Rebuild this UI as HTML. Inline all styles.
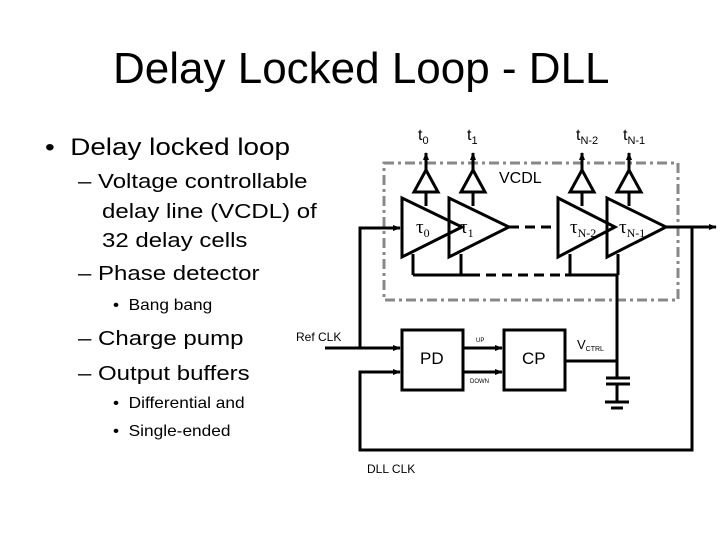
<!DOCTYPE html>
<html><head><style>
body{margin:0;width:720px;height:540px;background:#fff;overflow:hidden;position:relative;font-family:"Liberation Sans",Arial,sans-serif;color:#000}
.t{position:absolute;white-space:nowrap;transform-origin:0 0}
</style></head><body>
<div class="t" style="left:113px;top:44px;font-size:44px">Delay Locked Loop - DLL</div>
<div class="t" style="left:45px;top:136px;font-size:24px;line-height:24px;transform:scaleX(1.16)">•&nbsp; Delay locked loop</div>
<div class="t" style="left:78px;top:172px;font-size:20px;line-height:20px;transform:scaleX(1.2)">– Voltage controllable</div>
<div class="t" style="left:102px;top:202px;font-size:20px;line-height:20px;transform:scaleX(1.2)">delay line (VCDL) of</div>
<div class="t" style="left:102px;top:231px;font-size:20px;line-height:20px;transform:scaleX(1.2)">32 delay cells</div>
<div class="t" style="left:78px;top:264px;font-size:20px;line-height:20px;transform:scaleX(1.2)">– Phase detector</div>
<div class="t" style="left:113px;top:298px;font-size:16px;line-height:16px;transform:scaleX(1.08)">•&nbsp; Bang bang</div>
<div class="t" style="left:78px;top:329px;font-size:20px;line-height:20px;transform:scaleX(1.2)">– Charge pump</div>
<div class="t" style="left:78px;top:364px;font-size:20px;line-height:20px;transform:scaleX(1.2)">– Output buffers</div>
<div class="t" style="left:113px;top:396px;font-size:16px;line-height:16px;transform:scaleX(1.08)">•&nbsp; Differential and</div>
<div class="t" style="left:113px;top:424px;font-size:16px;line-height:16px;transform:scaleX(1.08)">•&nbsp; Single-ended</div>
<svg width="720" height="540" style="position:absolute;left:0;top:0" font-family="Liberation Sans, Arial, sans-serif">
<defs><marker id="a" markerWidth="8" markerHeight="8" refX="7" refY="4" orient="auto" markerUnits="userSpaceOnUse"><path d="M0,1 L8,4 L0,7z" fill="#000"/></marker></defs>
<rect x="384" y="163" width="294" height="137" fill="none" stroke="#888" stroke-width="3" stroke-dasharray="10,4,3,4"/>
<g stroke="#000" stroke-width="3" fill="none">
<polygon points="402,198 402,257 462,227"/>
<polygon points="449,198 449,257 509,227"/>
<polygon points="558,198 558,257 615,227"/>
<polygon points="607,198 607,257 666,227"/>
<line x1="509" y1="227" x2="558" y2="227" stroke-dasharray="10,6"/>
<polyline points="360,348 360,228 400,228" marker-end="url(#a)"/>
<line x1="666" y1="227" x2="716" y2="227" marker-end="url(#a)"/>
<line x1="413" y1="275" x2="470" y2="275"/>
<line x1="470" y1="275" x2="565" y2="275" stroke-dasharray="10,6"/>
<line x1="565" y1="275" x2="618" y2="275"/>
<line x1="413" y1="275" x2="413" y2="254"/><line x1="461" y1="275" x2="461" y2="254"/>
<line x1="570" y1="275" x2="570" y2="254"/><line x1="618" y1="275" x2="618" y2="254"/>
<line x1="617" y1="275" x2="617" y2="378"/>
<line x1="617" y1="384" x2="617" y2="402"/>
<line x1="606" y1="378" x2="630" y2="378"/><line x1="606" y1="384" x2="630" y2="384"/>
<line x1="605" y1="402" x2="629" y2="402"/><line x1="611" y1="408" x2="623" y2="408"/>
<line x1="565" y1="361" x2="617" y2="361"/>
<polyline points="692,227 692,450 360,450 360,372 400,372" marker-end="url(#a)"/>
<line x1="325" y1="348" x2="400" y2="348" marker-end="url(#a)"/>
<rect x="402" y="330" width="61" height="60"/>
<rect x="504" y="330" width="61" height="60"/>
<line x1="463" y1="348" x2="502" y2="348" marker-end="url(#a)"/>
<line x1="463" y1="372" x2="502" y2="372" marker-end="url(#a)"/>
</g>
<g stroke="#000" stroke-width="3" fill="none">
<g id="b"><polygon points="414,192 438,192 426,170"/><line x1="426" y1="206" x2="426" y2="192"/><line x1="426" y1="170" x2="426" y2="153" marker-end="url(#a)"/></g>
<use href="#b" x="47"/><use href="#b" x="156"/><use href="#b" x="203"/>
</g>
<g font-size="16">
<text x="418" y="140">t<tspan font-size="11" dy="4">0</tspan></text>
<text x="467" y="140">t<tspan font-size="11" dy="4">1</tspan></text>
<text x="576" y="140">t<tspan font-size="11" dy="4">N-2</tspan></text>
<text x="623" y="140">t<tspan font-size="11" dy="4">N-1</tspan></text>
<text x="499" y="183">VCDL</text>
<text x="416" y="233" font-family="Liberation Serif, serif" font-size="19">τ<tspan font-size="12" dy="4">0</tspan></text>
<text x="460" y="233" font-family="Liberation Serif, serif" font-size="19">τ<tspan font-size="12" dy="4">1</tspan></text>
<text x="570" y="233" font-family="Liberation Serif, serif" font-size="19">τ<tspan font-size="12" dy="4">N-2</tspan></text>
<text x="619" y="233" font-family="Liberation Serif, serif" font-size="19">τ<tspan font-size="12" dy="4">N-1</tspan></text>
<text x="420" y="364" font-size="17">PD</text>
<text x="522" y="364" font-size="17">CP</text>
<text x="296" y="341" font-size="12">Ref CLK</text>
<text x="577" y="349" font-size="13">V<tspan font-size="7" dy="2">CTRL</tspan></text>
<text x="476" y="342" font-size="6">UP</text>
<text x="470" y="383" font-size="6">DOWN</text>
<text x="367" y="473" font-size="12">DLL CLK</text>
</g>
</svg>
</body></html>
